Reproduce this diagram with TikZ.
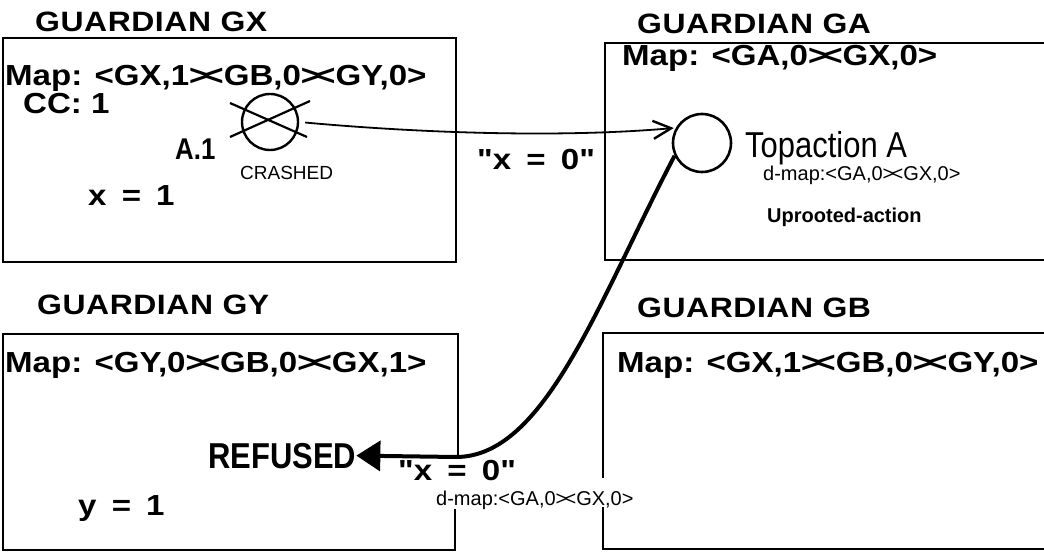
\documentclass[tikz,border=0pt]{standalone}
\usepackage{fontspec}
\setmainfont{Liberation Sans}
\newfontfamily\mapf{Liberation Sans}[FakeStretch=1.14]
\newfontfamily\titf{Liberation Sans}[FakeStretch=1.14, LetterSpace=2]
\newfontfamily\condf{Liberation Sans}[FakeStretch=0.86]
\usetikzlibrary{arrows.meta,calc}
\newcommand\xx{>\kern-.14em<}
\newcommand\eqsp{\ \kern6pt=\kern6pt\ }
\begin{document}
\begin{tikzpicture}[x=1pt,y=-1pt,
  box/.style={line width=2.6pt, line cap=rect},
  ttl/.style={anchor=base west, inner sep=0pt, font={\titf\bfseries\fontsize{28}{28}\selectfont}},
  mapt/.style={anchor=base west, inner sep=0pt, font={\mapf\bfseries\fontsize{29}{29}\selectfont}},
  bt/.style={anchor=base west, inner sep=0pt, font={\bfseries\fontsize{#1}{#1}\selectfont}},
  cbt/.style={anchor=base west, inner sep=0pt, font={\condf\bfseries\fontsize{#1}{#1}\selectfont}},
  crt/.style={anchor=base west, inner sep=0pt, font={\condf\fontsize{#1}{#1}\selectfont}},
  rt/.style={anchor=base west, inner sep=0pt, font={\fontsize{#1}{#1}\selectfont}},
  act/.style={draw, circle, inner sep=0pt},
  msg/.style={line width=1.8pt, -{Straight Barb[length=18pt,width=18pt,line width=2.4pt]}},
  reply/.style={line width=4pt, -{Triangle[length=24pt,width=30pt]}}
]
\useasboundingbox (0,0) rectangle (1044,553);

% boxes
\draw[box] (3,38) rectangle (456,262);
\draw[box] (1044,43) -- (605,43) -- (605,260) -- (1044,260);
\draw[box] (458,457) -- (458,334) -- (3,334) -- (3,550) -- (455,550) -- (455,510);
\draw[box] (1044,333) -- (603,333) -- (603,477);
\draw[box] (603,508) -- (603,549) -- (1044,549);

% titles
\node[ttl] (tgx) at (35,32) {GUARDIAN GX};
\node[ttl] (tga) at (637,34) {GUARDIAN GA};
\node[ttl] (tgy) at (37,315) {GUARDIAN GY};
\node[ttl] (tgb) at (637,318) {GUARDIAN GB};

% maps
\node[mapt] (mgx) at (5,86) {Map: <GX,1\xx GB,0\xx GY,0>};
\node[mapt] (mga) at (622,66) {Map: <GA,0\xx GX,0>};
\node[mapt] (mgy) at (5,372) {Map: <GY,0\xx GB,0\xx GX,1>};
\node[mapt] (mgb) at (617,372) {Map: <GX,1\xx GB,0\xx GY,0>};

% GX contents
\node[mapt] (cc) at (23,114) {CC: 1};
\node[cbt=30] (a1) at (175,160) {A.1};
\node[act, line width=2.4pt, minimum size=56pt] (cx) at (270,122) {};
\draw[line width=2.2pt] ($(cx)+(-40,-19)$) -- ($(cx)+(37,15)$);
\draw[line width=2.2pt] ($(cx)+(-40,15)$) -- ($(cx)+(40,-21)$);
\node[rt=19] (crashed) at (240,180) {CRASHED};
\node[mapt] (x1) at (88,206) {x\eqsp 1};

% GA contents
\node[act, line width=2.6pt, minimum size=58pt] (ca) at (702,143) {};
\node[crt=36] (top) at (745,158) {Topaction A};
\node[rt=20] (dm1) at (763,181) {d-map:<GA,0\xx GX,0>};
\node[bt=20] (upr) at (767,223) {Uprooted-action};

% GY contents
\node[cbt=36] (refused) at (208,468) {REFUSED};
\node[mapt] (y1) at (78,515) {y\eqsp 1};

% messages
\node[mapt] (lx0a) at (477,170) {"x\eqsp 0"};
\node[mapt] (lx0b) at (398,480) {"x\eqsp 0"};
\node[rt=20] (dm2) at (436,505) {d-map:<GA,0\xx GX,0>};

\coordinate (bend) at (456,457);
\draw[msg, shorten <=6pt, shorten >=2pt] (cx.east) .. controls (420,133) and (560,138) .. (ca.150);
\draw[reply] (ca.205) .. controls (598,302) and (545,457) .. (bend) -- (refused.east);
\end{tikzpicture}
\end{document}
